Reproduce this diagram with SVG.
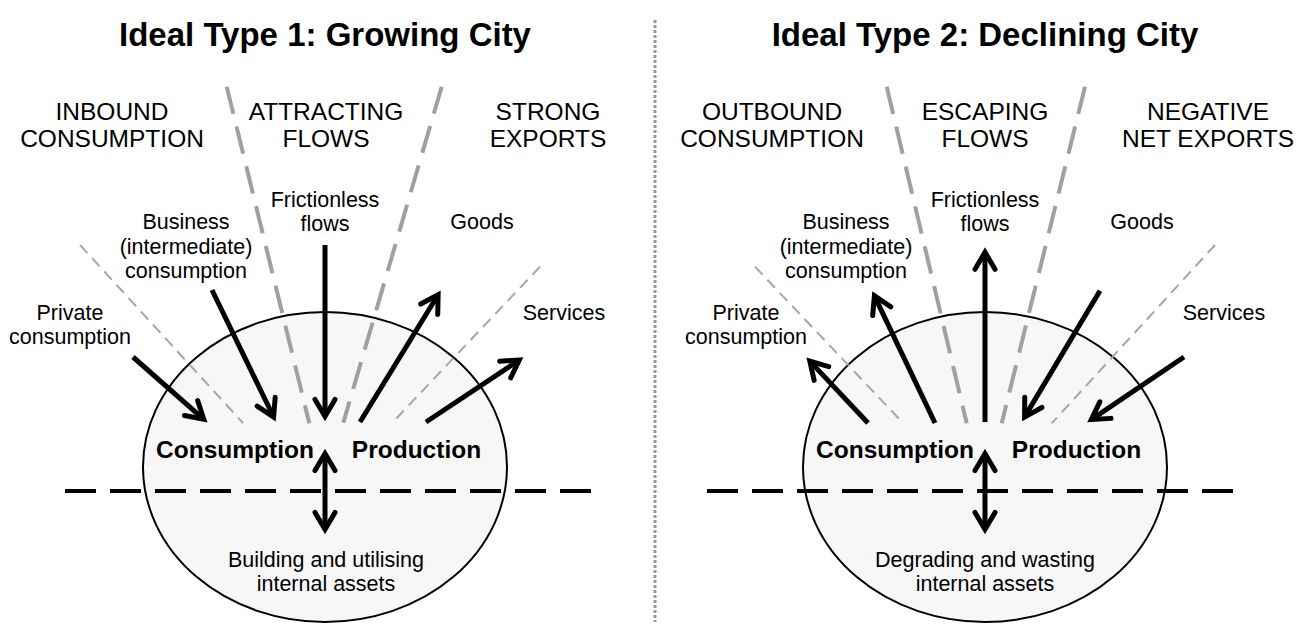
<svg xmlns="http://www.w3.org/2000/svg" width="1309" height="626" viewBox="0 0 1309 626">
<style>
text{font-family:"Liberation Sans",Arial,sans-serif;fill:#000;text-anchor:middle}
.title{font-size:33px;font-weight:bold}
.head{font-size:24.5px}
.lab{font-size:21.5px}
.bold{font-size:24.5px;font-weight:bold}
.ell{fill:#f7f7f7;stroke:#000;stroke-width:2}
.thick{stroke:#a0a0a0;stroke-width:4;stroke-dasharray:28 13;fill:none}
.thin{stroke:#a6a6a6;stroke-width:2;stroke-dasharray:11 7;fill:none}
.hdash{stroke:#000;stroke-width:4;stroke-dasharray:31 14;fill:none}
.arr{stroke:#000;stroke-width:5;fill:none;marker-end:url(#ah)}
.dbl{stroke:#000;stroke-width:5;fill:none;marker-end:url(#ah);marker-start:url(#ah)}
</style>
<defs>
<marker id="ah" markerUnits="userSpaceOnUse" orient="auto-start-reverse" markerWidth="40" markerHeight="40" viewBox="-20 -20 40 40" refX="0" refY="0" overflow="visible">
<path d="M-17,-10 L0,0 L-17,10" fill="none" stroke="#000" stroke-width="5" stroke-linecap="round" stroke-linejoin="miter"/>
</marker>
</defs>
<line id="divider" x1="655" y1="20" x2="655" y2="622" stroke="#999" stroke-width="3" stroke-dasharray="3 2"/>

<g id="left-panel">
<text class="title" x="325" y="46">Ideal Type 1: Growing City</text>
<g id="left-city"><ellipse class="ell" cx="325" cy="467" rx="182" ry="155"/></g>
<g id="left-sectors">
<line class="thin" x1="80" y1="245" x2="243" y2="423"/>
<line class="thick" x1="226.7" y1="86.7" x2="309.3" y2="423.3"/>
<line class="thick" x1="441.7" y1="86.7" x2="343.3" y2="422.7"/>
<line class="thin" x1="540" y1="266.7" x2="391.7" y2="423.3"/>
<line class="hdash" x1="65" y1="491" x2="591" y2="491"/>
</g>
<g id="left-connectors">
<line class="arr" x1="133" y1="357" x2="203.8" y2="419.3"/>
<line class="arr" x1="212" y1="290" x2="273.6" y2="417"/>
<line class="arr" x1="325" y1="245" x2="325" y2="416.4"/>
<line class="arr" x1="360" y1="422" x2="438.1" y2="294.8"/>
<line class="arr" x1="426" y1="422" x2="519.3" y2="360.1"/>
<line class="dbl" x1="325" y1="453.6" x2="325" y2="529.4"/>
</g>
<g id="left-inbound"><text class="head" x="112" y="120">INBOUND</text><text class="head" x="112" y="146.7">CONSUMPTION</text></g>
<g id="left-attracting"><text class="head" x="326" y="120">ATTRACTING</text><text class="head" x="326" y="146.7">FLOWS</text></g>
<g id="left-strong"><text class="head" x="548" y="120">STRONG</text><text class="head" x="548" y="146.7">EXPORTS</text></g>
<g id="left-private"><text class="lab" x="70" y="320">Private</text><text class="lab" x="70" y="344">consumption</text></g>
<g id="left-business"><text class="lab" x="186" y="229">Business</text><text class="lab" x="186" y="253.5">(intermediate)</text><text class="lab" x="186" y="278">consumption</text></g>
<g id="left-frictionless"><text class="lab" x="325" y="207">Frictionless</text><text class="lab" x="325" y="231">flows</text></g>
<g id="left-goods"><text class="lab" x="482" y="229">Goods</text></g>
<g id="left-services"><text class="lab" x="564" y="319.5">Services</text></g>
<g id="left-consumption"><text class="bold" x="235" y="457.5">Consumption</text></g>
<g id="left-production"><text class="bold" x="416.5" y="457.5">Production</text></g>
<g id="left-assets"><text class="lab" x="326" y="567">Building and utilising</text><text class="lab" x="326" y="591">internal assets</text></g>
</g>

<g id="right-panel">
<text class="title" x="985" y="46">Ideal Type 2: Declining City</text>
<g id="right-city"><ellipse class="ell" cx="985" cy="467" rx="182" ry="155"/></g>
<g id="right-sectors">
<line class="thin" x1="755" y1="266.7" x2="903.3" y2="423.3"/>
<line class="thick" x1="886.7" y1="86.7" x2="966.7" y2="423.3"/>
<line class="thick" x1="1085" y1="86.7" x2="1001.7" y2="423.3"/>
<line class="thin" x1="1215" y1="245" x2="1051.7" y2="423.3"/>
<line class="hdash" x1="707" y1="491" x2="1233" y2="491"/>
</g>
<g id="right-connectors">
<line class="arr" x1="868" y1="423" x2="809.8" y2="361.1"/>
<line class="arr" x1="935" y1="423" x2="874.4" y2="295.8"/>
<line class="arr" x1="985" y1="422" x2="985" y2="252.3"/>
<line class="arr" x1="1100" y1="290.7" x2="1024.6" y2="416.9"/>
<line class="arr" x1="1184" y1="357" x2="1091.3" y2="419.6"/>
<line class="dbl" x1="985" y1="453.6" x2="985" y2="529.4"/>
</g>
<g id="right-outbound"><text class="head" x="772" y="120">OUTBOUND</text><text class="head" x="772" y="146.7">CONSUMPTION</text></g>
<g id="right-escaping"><text class="head" x="985" y="120">ESCAPING</text><text class="head" x="985" y="146.7">FLOWS</text></g>
<g id="right-negative"><text class="head" x="1208" y="120">NEGATIVE</text><text class="head" x="1208" y="146.7">NET EXPORTS</text></g>
<g id="right-private"><text class="lab" x="746" y="320">Private</text><text class="lab" x="746" y="344">consumption</text></g>
<g id="right-business"><text class="lab" x="846" y="229">Business</text><text class="lab" x="846" y="253.5">(intermediate)</text><text class="lab" x="846" y="278">consumption</text></g>
<g id="right-frictionless"><text class="lab" x="985" y="207">Frictionless</text><text class="lab" x="985" y="231">flows</text></g>
<g id="right-goods"><text class="lab" x="1142" y="229">Goods</text></g>
<g id="right-services"><text class="lab" x="1224" y="319.5">Services</text></g>
<g id="right-consumption"><text class="bold" x="895" y="457.5">Consumption</text></g>
<g id="right-production"><text class="bold" x="1076.5" y="457.5">Production</text></g>
<g id="right-assets"><text class="lab" x="985" y="567">Degrading and wasting</text><text class="lab" x="985" y="591">internal assets</text></g>
</g>
</svg>
